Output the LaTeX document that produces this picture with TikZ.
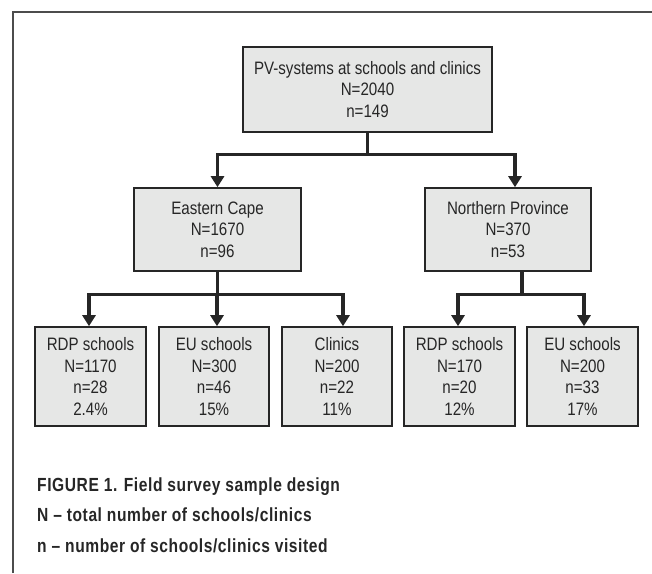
\documentclass[tikz,border=0pt]{standalone}
\usepackage{xcolor}
\usepackage{fontspec}
\setmainfont{Liberation Sans}[FakeStretch=0.84]
\newfontfamily\captfont{Liberation Sans}[FakeStretch=0.82, LetterSpace=3]
\usepackage{tikz}
\usetikzlibrary{positioning, arrows.meta}
\definecolor{boxgray}{HTML}{E6E7E6}
\definecolor{inkgray}{HTML}{262626}

\begin{document}
\begin{tikzpicture}[x=1pt, y=-1pt,
	box/.style={draw=inkgray, line width=1.6pt, fill=boxgray, align=center, inner sep=0pt, text=inkgray, font=\fontsize{18}{21.5}\selectfont},
	link/.style={draw=inkgray, line width=3.2pt, line join=miter, -{Triangle[width=13pt,length=11pt]}},
	capt/.style={anchor=base west, inner sep=0pt, text=inkgray, font=\captfont\bfseries\fontsize{19}{20}\selectfont}]
	\useasboundingbox (0,0) rectangle (652,573);
	%% open frame
	\draw[black!70, line width=1.3pt] (13,573) -- (13,12) -- (652,12);
	\pgfmathsetmacro{\lowy}{376.5}
	\node[box, minimum width=249pt, minimum height=85pt] (total) at (367.5,89.5) {PV-systems at schools and clinics\\N=2040\\n=149};
	\node[box, minimum width=167pt, minimum height=83pt] (ecape) at (217.5,229.5) {Eastern Cape\\N=1670\\n=96};
	\node[box, minimum width=166pt, minimum height=83pt] (nprov) at (508,229.5) {Northern Province\\N=370\\n=53};
	\node[box, minimum width=111pt, minimum height=99pt] (ecrdp) at (90.5,\lowy) {RDP schools\\N=1170\\n=28\\2.4\%};
	\node[box, minimum width=110pt, minimum height=99pt] (eceu) at (214,\lowy) {EU schools\\N=300\\n=46\\15\%};
	\node[box, minimum width=110pt, minimum height=99pt] (ecclin) at (337,\lowy) {Clinics\\N=200\\n=22\\11\%};
	\node[box, minimum width=111pt, minimum height=99pt] (nprdp) at (459.5,\lowy) {RDP schools\\N=170\\n=20\\12\%};
	\node[box, minimum width=111pt, minimum height=99pt] (npeu) at (582.5,\lowy) {EU schools\\N=200\\n=33\\17\%};
	%% connectors
	\draw[link] (total.south) -- ++(0,22) -| (ecape.north);
	\draw[link] (total.south) -- ++(0,22) -| ([xshift=7pt]nprov.north);
	\draw[link] (ecape.south) -- ++(0,23) -| ([xshift=-1.5pt]ecrdp.north);
	\draw[link] (ecape.south) -- ++(0,23) -| ([xshift=3pt]eceu.north);
	\draw[link] (ecape.south) -- ++(0,23) -| ([xshift=6pt]ecclin.north);
	\draw[link] ([xshift=14pt]nprov.south) -- ++(0,23) -| ([xshift=-1.5pt]nprdp.north);
	\draw[link] ([xshift=14pt]nprov.south) -- ++(0,23) -| ([xshift=1.5pt]npeu.north);
	%% caption
	\node[capt] (fig) at (37,491) {FIGURE 1. Field survey sample design};
	\node[capt] (keyN) at (37,521.5) {N – total number of schools/clinics};
	\node[capt] (keyn) at (37,552) {n – number of schools/clinics visited};
\end{tikzpicture}
\end{document}
